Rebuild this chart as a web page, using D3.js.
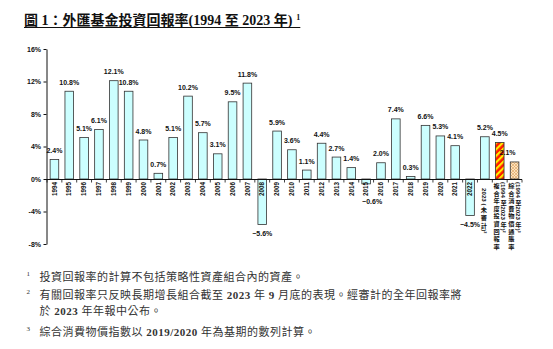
<!DOCTYPE html>
<html><head><meta charset="utf-8">
<script src="https://cdn.jsdelivr.net/npm/d3@7"></script>
<style>
body{margin:0;background:#fff}
svg{display:block}
</style>
</head><body>
<svg id="c" width="553" height="349"></svg>
<script>
// ---- data ----
const years = ["1994","1995","1996","1997","1998","1999","2000","2001","2002","2003","2004","2005","2006","2007","2008","2009","2010","2011","2012","2013","2014","2015","2016","2017","2018","2019","2020","2021","2022"];
const yearValues = [2.4,10.8,5.1,6.1,12.1,10.8,4.8,0.7,5.1,10.2,5.7,3.1,9.5,11.8,-5.6,5.9,3.6,1.1,4.4,2.7,1.4,-0.6,2.0,7.4,0.3,6.6,5.3,4.1,-4.5];
const extraLabels = [["2023 (未審計)²"],["複合年度投資回報率","(1994 至 2023 年)²"],["綜合消費物價通脹率","(1994 至 2023 年)³"]];
const extraValues = [5.2,4.5,2.1];
const extraKinds = ["plain","stripe","hatch"];
const yTicks = [-8,-4,0,4,8,12,16];
const titleText = "圖 1：外匯基金投資回報率(1994 至 2023 年)";
const footnotes = [
  {mark:"1", lines:[[["投資回報率的計算不包括策略性資產組合內的資產。",0]]]},
  {mark:"2", lines:[[["有關回報率只反映長期增長組合截至 ",0],["2023",1],[" 年 ",0],["9",1],[" 月底的表現。經審計的全年回報率將",0]],[["於 ",0],["2023",1],[" 年年報中公布。",0]]]},
  {mark:"3", lines:[[["綜合消費物價指數以 ",0],["2019/2020",1],[" 年為基期的數列計算。",0]]]}
];

// ---- build ----
const svg = d3.select("#c");
const n = years.length + extraValues.length;
const allValues = yearValues.concat(extraValues);
const kinds = years.map(()=> "plain").concat(extraKinds);

const x = d3.scaleBand().domain(d3.range(n)).range([47,522]).paddingInner(0.42).paddingOuter(0.21);
const y = d3.scaleLinear().domain([-8,16]).range([244,49]);
const step = x.step();

const defs = svg.append("defs");
const ps = defs.append("pattern").attr("id","stripe").attr("patternUnits","userSpaceOnUse")
  .attr("width",4.6).attr("height",4.6).attr("patternTransform","rotate(45)");
ps.append("rect").attr("width",4.6).attr("height",4.6).attr("fill","#ff1a00");
ps.append("rect").attr("width",2.1).attr("height",4.6).attr("fill","#ffee00");
const ph = defs.append("pattern").attr("id","hatch").attr("patternUnits","userSpaceOnUse")
  .attr("width",3).attr("height",3);
ph.append("rect").attr("width",3).attr("height",3).attr("fill","#fde2bd");
ph.append("path").attr("d","M0,3L3,0M0,0L3,3").attr("stroke","#dba15e").attr("stroke-width",0.6);

const fills = {plain:"#ccffff", stripe:"url(#stripe)", hatch:"url(#hatch)"};

// title
const title = svg.append("text").attr("x",24).attr("y",25)
  .attr("font-family","'Liberation Serif','Noto Sans CJK TC',serif")
  .attr("font-weight","bold").attr("font-size",14).attr("fill","#111");
title.append("tspan").text(titleText);
title.append("tspan").attr("font-size",8).attr("dy",-5).attr("dx",4).text("1");
const tw = title.node().getBBox();
svg.append("line").attr("x1",24).attr("x2",tw.x+tw.width).attr("y1",27.5).attr("y2",27.5)
  .attr("stroke","#111").attr("stroke-width",1);

// bars
svg.append("g").selectAll("rect").data(allValues).join("rect")
  .attr("x",(d,i)=>x(i)).attr("width",x.bandwidth())
  .attr("y",d=>Math.min(y(d),y(0))).attr("height",d=>Math.abs(y(d)-y(0)))
  .attr("fill",(d,i)=>fills[kinds[i]]).attr("stroke","#333").attr("stroke-width",0.8);

// y axis
const yAxis = svg.append("g").attr("transform","translate(46.5,0)")
  .call(d3.axisLeft(y).tickValues(yTicks).tickSize(3).tickSizeOuter(0).tickPadding(2.5).tickFormat(d=>d+"%"));
yAxis.selectAll("text").attr("font-family","'Liberation Sans',Arial,sans-serif").attr("font-weight","bold").attr("font-size",7).attr("fill","#111");
yAxis.selectAll("line,path").attr("stroke","#111");

// zero line + ticks
const z = Math.round(y(0))+0.5;
svg.append("line").attr("x1",46).attr("x2",522).attr("y1",z).attr("y2",z).attr("stroke","#111");
svg.append("g").selectAll("line").data(d3.range(n+1)).join("line")
  .attr("x1",i=>x.range()[0]+step*(x.paddingOuter()-x.paddingInner()/2)+i*step)
  .attr("x2",i=>x.range()[0]+step*(x.paddingOuter()-x.paddingInner()/2)+i*step)
  .attr("y1",z).attr("y2",z+3).attr("stroke","#111").attr("stroke-width",0.8);

// value labels
svg.append("g").selectAll("text").data(allValues).join("text")
  .attr("x",(d,i)=>x(i)+x.bandwidth()/2 + (kinds[i]==="hatch"?-7:(d<0&&d>-2?6:0)))
  .attr("y",d=> d>=0 ? y(d)-6.5 : (d>-2 ? y(0)+25 : y(d)+11.5))
  .attr("text-anchor","middle")
  .attr("font-family","'Liberation Sans',Arial,sans-serif").attr("font-weight","bold").attr("font-size",7).attr("fill","#111")
  .text(d=>d3.format(".1f")(d)+"%");

// year labels
svg.append("g").selectAll("text").data(years).join("text")
  .attr("transform",(d,i)=>`translate(${x(i)+x.bandwidth()/2},${z+2.5}) rotate(-90)`)
  .attr("text-anchor","end").attr("dy","0.35em")
  .attr("font-family","'Liberation Sans',Arial,sans-serif").attr("font-weight","bold").attr("font-size",6.3).attr("fill","#111")
  .text(d=>d);

// extra vertical labels: CJK upright, Latin runs rotated clockwise
const vfam = "'Noto Sans CJK TC','Liberation Sans',sans-serif";
const vsize = 6.2, pitch = 7.6;
function verticalText(g, str, cx, y0){
  const runs = str.match(/[\u3000-\u9fff\uff00-\uffef]|[^\u3000-\u9fff\uff00-\uffef]+/g);
  let yy = y0;
  runs.forEach(r=>{
    if (/[\u3000-\u9fff\uff00-\uffef]/.test(r)) {
      g.append("text").attr("x",cx).attr("y",yy+pitch*0.5).attr("dy","0.36em")
        .attr("text-anchor","middle").attr("font-family",vfam).attr("font-size",vsize).attr("font-weight","bold")
        .attr("fill","#111").text(r);
      yy += pitch;
    } else {
      const t = g.append("text").attr("transform",`translate(${cx},${yy}) rotate(90)`)
        .attr("dy","0.35em").attr("font-family","'Liberation Sans',Arial,sans-serif")
        .attr("font-size",vsize).attr("font-weight","bold").attr("fill","#111").text(r);
      yy += t.node().getComputedTextLength() + 0.8;
    }
  });
}
const vg = svg.append("g");
extraLabels.forEach((cols,k)=>{
  const i = years.length + k;
  const cx = x(i)+x.bandwidth()/2;
  cols.forEach((t,j)=>{
    const colX = cols.length===1 ? cx-1 : cx - 3.2 + j*7;
    verticalText(vg, t, colX, cols.length===1 ? 188 : 182);
  });
});

// footnotes
const ffam = "'Liberation Serif','Noto Sans CJK TC',serif";
let fy = [281,299,336];
footnotes.forEach((f,k)=>{
  svg.append("text").attr("x",26.5).attr("y",fy[k]-5).attr("font-family",ffam).attr("font-size",7).attr("fill","#333").text(f.mark);
  f.lines.forEach((ln,j)=>{
    const t = svg.append("text").attr("x",39.5).attr("y",fy[k]+j*15.5).attr("font-family",ffam)
      .attr("font-size",11).attr("letter-spacing",0.5).attr("fill","#333");
    ln.forEach(([s,b])=>t.append("tspan").attr("font-weight",b?"bold":"normal").text(s));
  });
});
</script>
</body></html>
